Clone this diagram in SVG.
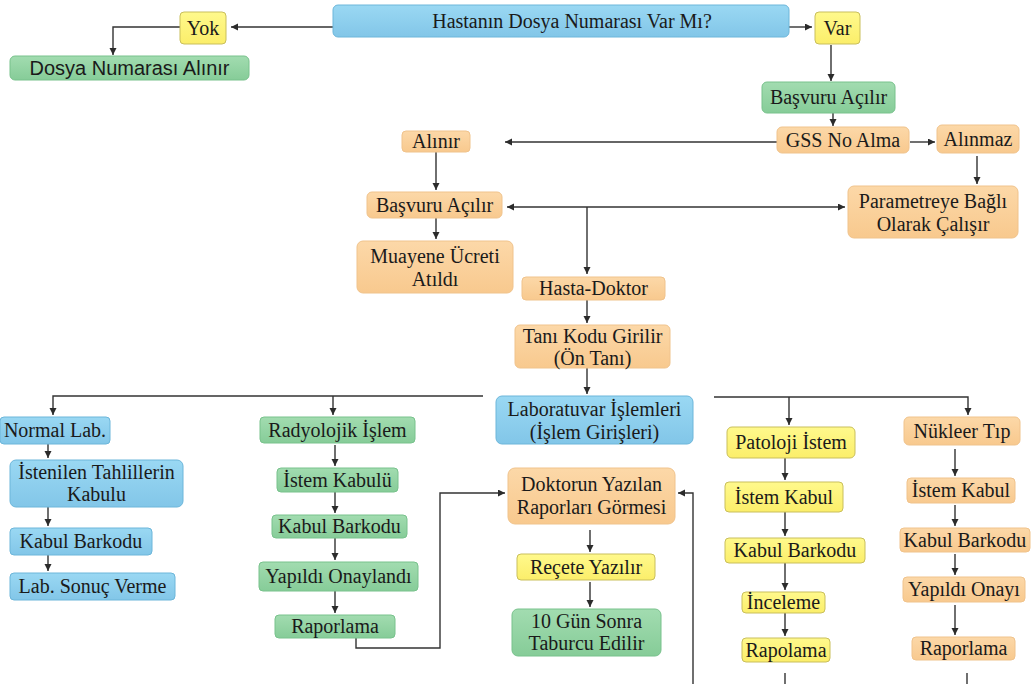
<svg xmlns="http://www.w3.org/2000/svg" width="1033" height="684" viewBox="0 0 1033 684">
<defs>
<linearGradient id="gb" x1="0" y1="0" x2="0" y2="1"><stop offset="0" stop-color="#9ad8f3"/><stop offset="1" stop-color="#82c6e8"/></linearGradient>
<linearGradient id="gg" x1="0" y1="0" x2="0" y2="1"><stop offset="0" stop-color="#a2dcb0"/><stop offset="1" stop-color="#86cc98"/></linearGradient>
<linearGradient id="gy" x1="0" y1="0" x2="0" y2="1"><stop offset="0" stop-color="#fff98c"/><stop offset="1" stop-color="#fbee6a"/></linearGradient>
<linearGradient id="go" x1="0" y1="0" x2="0" y2="1"><stop offset="0" stop-color="#fcd8a8"/><stop offset="1" stop-color="#f8c98e"/></linearGradient>
<marker id="ah" markerUnits="userSpaceOnUse" markerWidth="8" markerHeight="8" refX="7" refY="3.5" orient="auto"><path d="M0,0 L7,3.5 L0,7 z" fill="#2b2b2b"/></marker>
</defs>
<style>
.b{fill:url(#gb);stroke:#6cb6da;stroke-width:1}
.g{fill:url(#gg);stroke:#78c28c;stroke-width:1}
.y{fill:url(#gy);stroke:#c9bf5c;stroke-width:1}
.o{fill:url(#go);stroke:#f0c38c;stroke-width:1}
text{font-size:20px;fill:#1a1a1a;text-anchor:middle}
#connectors path{fill:none;stroke:#333;stroke-width:1.4}
#connectors path.a{marker-end:url(#ah)}
</style>
<rect width="1033" height="684" fill="#ffffff"/>
<g id="connectors">
<path class="a" d="M333,27 H231"/>
<path class="a" d="M180,27 H113 V55"/>
<path class="a" d="M789,27 H812"/>
<path class="a" d="M831,45 V81"/>
<path class="a" d="M833,113 V126"/>
<path class="a" d="M910,142 H935"/>
<path class="a" d="M777,142 H505"/>
<path class="a" d="M977,156 V184"/>
<path class="a" d="M436,152 V190"/>
<path class="a" d="M436,218 V239"/>
<path class="a" d="M587,207 H507"/>
<path class="a" d="M587,207 H845"/>
<path class="a" d="M587,207 V274"/>
<path class="a" d="M587,300 V323"/>
<path class="a" d="M587,368 V394"/>
<path class="a" d="M483,396 H53 V415"/>
<path class="a" d="M333,396 V415"/>
<path class="a" d="M714,397 H968 V415"/>
<path class="a" d="M789,397 V425"/>
<path class="a" d="M48,444 V458"/>
<path class="a" d="M48,507 V526"/>
<path class="a" d="M48,550 V571"/>
<path class="a" d="M335,445 V466"/>
<path class="a" d="M335,492 V513"/>
<path class="a" d="M335,538 V560"/>
<path class="a" d="M335,591 V613"/>
<path class="a" d="M356,638 V648 H440 V493 H505"/>
<path class="a" d="M693,684 V493 H678"/>
<path class="a" d="M590,530 V552"/>
<path class="a" d="M590,582 V607"/>
<path class="a" d="M785,458 V480"/>
<path class="a" d="M785,512 V536"/>
<path class="a" d="M785,563 V590"/>
<path class="a" d="M785,613 V636"/>
<path d="M785,673 V684"/>
<path class="a" d="M955,449 V476"/>
<path class="a" d="M955,505 V526"/>
<path class="a" d="M955,554 V575"/>
<path class="a" d="M955,605 V635"/>
<path d="M967,673 V684"/>
</g>
<g font-family="'Liberation Serif', 'DejaVu Serif', serif">
<g id="q"><rect class="b" x="333" y="5" width="456" height="32" rx="5"/><text x="572" y="28">Hastanın Dosya Numarası Var Mı?</text></g>
<g id="yok"><rect class="y" x="180" y="12" width="46" height="32" rx="4"/><text x="203" y="35">Yok</text></g>
<g id="dosya"><rect class="g" x="10" y="56" width="239" height="24" rx="5"/><text font-family="'Liberation Sans', Arial, sans-serif" x="129.5" y="75">Dosya Numarası Alınır</text></g>
<g id="var"><rect class="y" x="815" y="12" width="45" height="32" rx="4"/><text x="837.5" y="35">Var</text></g>
<g id="basvuru1"><rect class="g" x="762" y="82" width="133" height="31" rx="5"/><text x="828.5" y="104">Başvuru Açılır</text></g>
<g id="gss"><rect class="o" x="777" y="127" width="132" height="26" rx="5"/><text x="843" y="147">GSS No Alma</text></g>
<g id="alinmaz"><rect class="o" x="937" y="125" width="82" height="28" rx="5"/><text x="978" y="146">Alınmaz</text></g>
<g id="parametre"><rect class="o" x="848" y="186" width="170" height="52" rx="6"/><text x="933" y="208">Parametreye Bağlı</text><text x="933" y="231">Olarak Çalışır</text></g>
<g id="alinir"><rect class="o" x="402" y="131" width="68" height="21" rx="4"/><text x="436" y="148">Alınır</text></g>
<g id="basvuru2"><rect class="o" x="367" y="192" width="135" height="26" rx="5"/><text x="434.5" y="212">Başvuru Açılır</text></g>
<g id="muayene"><rect class="o" x="357" y="241" width="156" height="52" rx="6"/><text x="435" y="263">Muayene Ücreti</text><text x="435" y="286">Atıldı</text></g>
<g id="hasta"><rect class="o" x="522" y="277" width="143" height="23" rx="4"/><text x="593.5" y="295">Hasta-Doktor</text></g>
<g id="tani"><rect class="o" x="515" y="325" width="155" height="43" rx="5"/><text x="592.5" y="343">Tanı Kodu Girilir</text><text x="592.5" y="365">(Ön Tanı)</text></g>
<g id="lab"><rect class="b" x="496" y="396" width="197" height="48" rx="6"/><text x="594.5" y="416">Laboratuvar İşlemleri</text><text x="594.5" y="439">(İşlem Girişleri)</text></g>
<g id="normal"><rect class="b" x="0" y="417" width="110" height="27" rx="4"/><text x="55" y="437">Normal Lab.</text></g>
<g id="istenilen"><rect class="b" x="10" y="460" width="173" height="47" rx="6"/><text x="96.5" y="479">İstenilen Tahlillerin</text><text x="96.5" y="501">Kabulu</text></g>
<g id="kabulL"><rect class="b" x="10" y="528" width="142" height="27" rx="4"/><text x="81" y="548">Kabul Barkodu</text></g>
<g id="labsonuc"><rect class="b" x="10" y="573" width="165" height="27" rx="4"/><text x="92.5" y="593">Lab. Sonuç Verme</text></g>
<g id="radyolojik"><rect class="g" x="260" y="417" width="155" height="26" rx="4"/><text x="337.5" y="437">Radyolojik İşlem</text></g>
<g id="istemR"><rect class="g" x="277" y="468" width="121" height="24" rx="4"/><text x="337.5" y="487">İstem Kabulü</text></g>
<g id="kabulR"><rect class="g" x="272" y="515" width="135" height="23" rx="4"/><text x="339.5" y="533">Kabul Barkodu</text></g>
<g id="yapildiR"><rect class="g" x="259" y="562" width="159" height="29" rx="4"/><text x="338.5" y="583">Yapıldı Onaylandı</text></g>
<g id="raporR"><rect class="g" x="275" y="615" width="120" height="23" rx="4"/><text x="335" y="633">Raporlama</text></g>
<g id="doktorun"><rect class="o" x="508" y="468" width="167" height="56" rx="7"/><text x="591.5" y="491">Doktorun Yazılan</text><text x="591.5" y="514">Raporları Görmesi</text></g>
<g id="recete"><rect class="y" x="517" y="554" width="138" height="26" rx="4"/><text x="586" y="574">Reçete Yazılır</text></g>
<g id="taburcu"><rect class="g" x="512" y="609" width="149" height="47" rx="6"/><text x="586.5" y="628">10 Gün Sonra</text><text x="586.5" y="650">Taburcu Edilir</text></g>
<g id="patoloji"><rect class="y" x="727" y="427" width="128" height="31" rx="5"/><text x="791" y="449">Patoloji İstem</text></g>
<g id="istemP"><rect class="y" x="725" y="482" width="118" height="30" rx="4"/><text x="784" y="504">İstem Kabul</text></g>
<g id="kabulP"><rect class="y" x="725" y="538" width="140" height="25" rx="4"/><text x="795" y="557">Kabul Barkodu</text></g>
<g id="inceleme"><rect class="y" x="742" y="592" width="83" height="21" rx="4"/><text x="783.5" y="609">İnceleme</text></g>
<g id="rapolama"><rect class="y" x="742" y="638" width="88" height="24" rx="4"/><text x="786" y="657">Rapolama</text></g>
<g id="nukleer"><rect class="o" x="904" y="417" width="116" height="28" rx="5"/><text x="962" y="438">Nükleer Tıp</text></g>
<g id="istemN"><rect class="o" x="907" y="478" width="108" height="25" rx="4"/><text x="961" y="497">İstem Kabul</text></g>
<g id="kabulN"><rect class="o" x="900" y="528" width="130" height="24" rx="4"/><text x="965" y="547">Kabul Barkodu</text></g>
<g id="yapildiN"><rect class="o" x="903" y="577" width="122" height="25" rx="4"/><text x="964" y="596">Yapıldı Onayı</text></g>
<g id="raporN"><rect class="o" x="912" y="637" width="103" height="23" rx="4"/><text x="963.5" y="655">Raporlama</text></g>
</g>
</svg>
